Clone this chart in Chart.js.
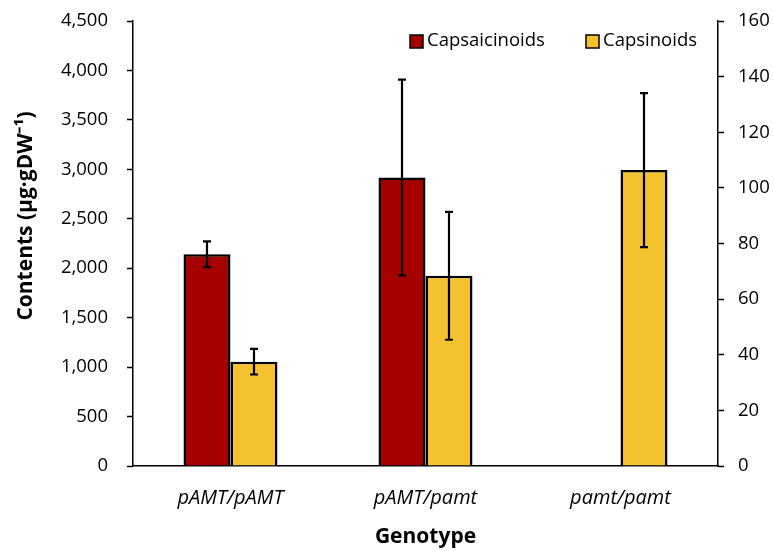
<!DOCTYPE html>
<html>
<head>
<meta charset="utf-8">
<script src="https://cdn.jsdelivr.net/npm/chart.js@4.4.1/dist/chart.umd.min.js"></script>
<style>
html, body { margin: 0; padding: 0; background: #fff; }
#wrap { width: 774px; height: 551px; position: relative; }
</style>
</head>
<body>
<div id="wrap"><canvas id="chart"></canvas></div>
<script>
const genotypes = ['pAMT/pAMT', 'pAMT/pamt', 'pamt/pamt'];
const capsaicinoids = [2142, 2917, 0];
const capsaicinoidsErr = [130, 990, 0];
const capsinoids = [37.5, 68.4, 106.4];
const capsinoidsErr = [4.6, 23, 27.7];
const leftMax = 4500, leftStep = 500;
const rightMax = 160, rightStep = 20;
const yTitle = 'Contents (μg·gDW⁻¹)';

Chart.defaults.font.family = "'Open Sans', sans-serif";
Chart.defaults.color = '#000';

// error bars drawn through the dataset's own y scale
const errorBars = {
    id: 'errorBars',
    afterDatasetsDraw(chart) {
        const ctx = chart.ctx;
        chart.data.datasets.forEach((ds, di) => {
            if (!ds.errors) return;
            const meta = chart.getDatasetMeta(di);
            const scale = chart.scales[ds.yAxisID];
            meta.data.forEach((bar, i) => {
                const err = ds.errors[i];
                if (!err) return;
                const v = ds.data[i];
                const yTop = scale.getPixelForValue(v + err);
                const yBot = scale.getPixelForValue(v - err);
                ctx.save();
                ctx.strokeStyle = '#000';
                ctx.lineWidth = 2.2;
                ctx.beginPath();
                ctx.moveTo(bar.x, yTop); ctx.lineTo(bar.x, yBot);
                ctx.moveTo(bar.x - 4, yTop); ctx.lineTo(bar.x + 4, yTop);
                ctx.moveTo(bar.x - 4, yBot); ctx.lineTo(bar.x + 4, yBot);
                ctx.stroke();
                ctx.restore();
            });
        });
    }
};

// legend inside the plot and the rotated y title
const extras = {
    id: 'extras',
    afterDraw(chart) {
        const ctx = chart.ctx;
        const xs = [410, 586];
        const y = 41;
        ctx.save();
        ctx.font = "18.5px 'Open Sans', sans-serif";
        ctx.textBaseline = 'middle';
        chart.data.datasets.forEach((ds, i) => {
            ctx.fillStyle = ds.backgroundColor;
            ctx.fillRect(xs[i], y - 6, 13, 13);
            ctx.strokeStyle = '#000';
            ctx.lineWidth = 1.5;
            ctx.strokeRect(xs[i], y - 6, 13, 13);
            ctx.fillStyle = '#000';
            ctx.fillText(ds.label, xs[i] + 17, y);
        });
        ctx.translate(26, 216);
        ctx.rotate(-Math.PI / 2);
        ctx.font = "bold 21px 'Open Sans', sans-serif";
        ctx.textAlign = 'center';
        ctx.fillText(yTitle, 0, 0);
        ctx.restore();
    }
};

const fitY = w => s => { s.width = w; s.paddingTop = 0; s.paddingBottom = 0; };

new Chart(document.getElementById('chart'), {
    type: 'bar',
    data: {
        labels: genotypes,
        datasets: [{
            label: 'Capsaicinoids',
            data: capsaicinoids,
            errors: capsaicinoidsErr,
            yAxisID: 'y',
            backgroundColor: '#A50000',
            borderColor: '#000',
            borderWidth: 2.5
        }, {
            label: 'Capsinoids',
            data: capsinoids,
            errors: capsinoidsErr,
            yAxisID: 'y2',
            backgroundColor: '#F3C22E',
            borderColor: '#000',
            borderWidth: 2.5
        }]
    },
    options: {
        responsive: true,
        maintainAspectRatio: false,
        animation: false,
        datasets: { bar: { barPercentage: 1, categoryPercentage: 0.482 } },
        layout: { padding: { top: 21, left: 0, right: 0, bottom: 0 } },
        plugins: { legend: { display: false }, tooltip: { enabled: false } },
        scales: {
            x: {
                grid: { display: false },
                border: { display: true, color: '#000', width: 1.5 },
                ticks: { font: { size: 20, style: 'italic' }, padding: 12 },
                title: { display: true, text: 'Genotype', font: { size: 21, weight: 'bold' }, padding: { top: 0, bottom: 1 } },
                afterFit: s => { s.height = 85; }
            },
            y: {
                position: 'left',
                min: 0, max: leftMax,
                ticks: { stepSize: leftStep, font: { size: 18.5 }, padding: 19 },
                grid: { display: true, drawOnChartArea: false, tickLength: 6, color: '#000', tickWidth: 1.5 },
                border: { display: true, color: '#000', width: 1.5 },
                afterFit: fitY(133)
            },
            y2: {
                position: 'right',
                min: 0, max: rightMax,
                ticks: { stepSize: rightStep, font: { size: 18.5 }, padding: 14 },
                grid: { display: true, drawOnChartArea: false, tickLength: 6, color: '#000', tickWidth: 1.5 },
                border: { display: true, color: '#000', width: 1.5 },
                afterFit: fitY(56)
            }
        }
    },
    plugins: [errorBars, extras]
});
</script>
</body>
</html>
